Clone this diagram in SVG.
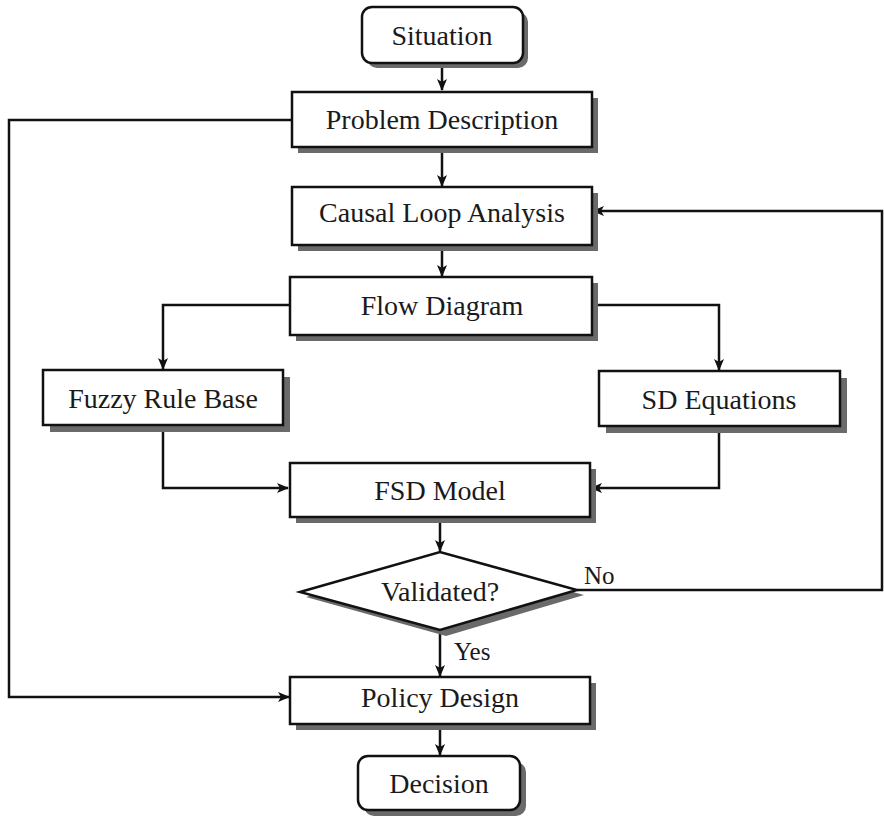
<svg xmlns="http://www.w3.org/2000/svg" width="884" height="817" viewBox="0 0 884 817">
<style>
.box{fill:#fff;stroke:#111;stroke-width:2.5}
.sh{fill:#6a6a6a}
.t{font-family:"Liberation Serif","Times New Roman",serif;font-size:28px;fill:#1a1a1a;text-anchor:middle}
.lbl{font-family:"Liberation Serif","Times New Roman",serif;font-size:25px;fill:#1a1a1a}
.c{fill:none;stroke:#111;stroke-width:2.5}
</style>
<defs>
<marker id="ar" viewBox="0 0 12 10" refX="11" refY="5" markerWidth="12" markerHeight="10" markerUnits="userSpaceOnUse" orient="auto">
<path d="M0,0 L12,5 L0,10 L3,5 z" fill="#111"/>
</marker>
</defs>
<rect width="884" height="817" fill="#fff"/>
<g id="connectors">
<path class="c" d="M442,63 V90" marker-end="url(#ar)"/>
<path class="c" d="M442,147 V186" marker-end="url(#ar)"/>
<path class="c" d="M442,245 V276" marker-end="url(#ar)"/>
<path class="c" d="M290,305 H163 V369" marker-end="url(#ar)"/>
<path class="c" d="M592,305 H719 V370" marker-end="url(#ar)"/>
<path class="c" d="M163,425 V488 H288" marker-end="url(#ar)"/>
<path class="c" d="M719,426 V488 H591" marker-end="url(#ar)"/>
<path class="c" d="M440,517 V551" marker-end="url(#ar)"/>
<path class="c" d="M577,590 H882 V211 H593" marker-end="url(#ar)"/>
<path class="c" d="M440,630 V676" marker-end="url(#ar)"/>
<path class="c" d="M292,120 H9 V697 H289" marker-end="url(#ar)"/>
<path class="c" d="M440,724 V755" marker-end="url(#ar)"/>
<text class="lbl" x="584" y="584">No</text>
<text class="lbl" x="454" y="660">Yes</text>
</g>
<g id="situation">
<rect class="sh" x="367" y="12" width="161" height="56" rx="10"/>
<rect class="box" x="362" y="7" width="161" height="56" rx="10"/>
<text class="t" x="442" y="45">Situation</text>
</g>
<g id="problem">
<rect class="sh" x="298" y="98" width="300" height="55"/>
<rect class="box" x="292" y="92" width="300" height="55"/>
<text class="t" x="442" y="129">Problem Description</text>
</g>
<g id="causal">
<rect class="sh" x="298" y="193" width="300" height="58"/>
<rect class="box" x="292" y="187" width="300" height="58"/>
<text class="t" x="442" y="222">Causal Loop Analysis</text>
</g>
<g id="flow">
<rect class="sh" x="296" y="283" width="302" height="58"/>
<rect class="box" x="290" y="277" width="302" height="58"/>
<text class="t" x="442" y="315">Flow Diagram</text>
</g>
<g id="fuzzy">
<rect class="sh" x="50" y="377" width="240" height="55"/>
<rect class="box" x="43" y="370" width="240" height="55"/>
<text class="t" x="163" y="408">Fuzzy Rule Base</text>
</g>
<g id="sd">
<rect class="sh" x="606" y="378" width="241" height="55"/>
<rect class="box" x="599" y="371" width="241" height="55"/>
<text class="t" x="719" y="409">SD Equations</text>
</g>
<g id="fsd">
<rect class="sh" x="296" y="469" width="300" height="54"/>
<rect class="box" x="290" y="463" width="300" height="54"/>
<text class="t" x="440" y="500">FSD Model</text>
</g>
<g id="validated">
<polygon class="sh" points="306,597 446,557 584,595 446,636"/>
<polygon class="box" points="300,592 440,552 577,590 440,630"/>
<text class="t" x="440" y="601">Validated?</text>
</g>
<g id="policy">
<rect class="sh" x="296" y="683" width="300" height="47"/>
<rect class="box" x="290" y="677" width="300" height="47"/>
<text class="t" x="440" y="707">Policy Design</text>
</g>
<g id="decision">
<rect class="sh" x="364" y="762" width="162" height="54" rx="10"/>
<rect class="box" x="358" y="756" width="162" height="54" rx="10"/>
<text class="t" x="439" y="793">Decision</text>
</g>
</svg>
